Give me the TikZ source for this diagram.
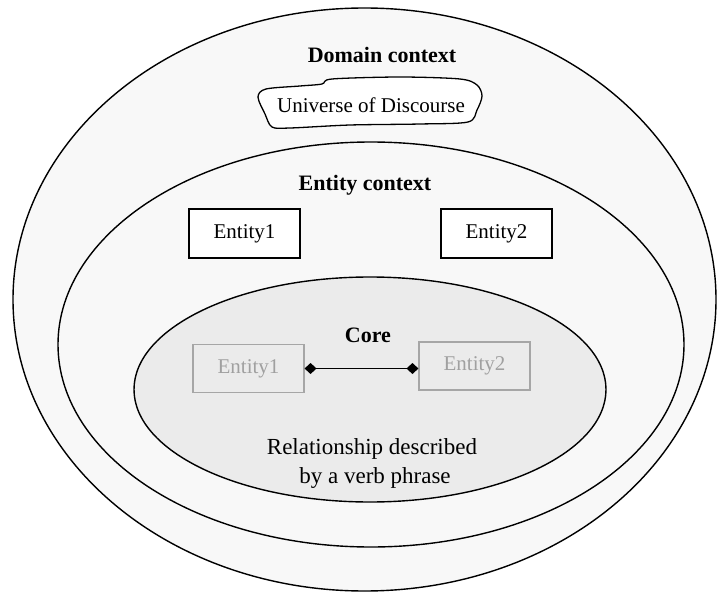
\documentclass[tikz,border=0pt]{standalone}
\usepackage{fontspec}
\setmainfont{Liberation Serif}
\usetikzlibrary{arrows.meta}
\definecolor{ctxfill}{HTML}{F8F8F8}
\definecolor{corefill}{HTML}{EBEBEB}
\definecolor{ghostline}{HTML}{A6A6A6}
\definecolor{ghosttext}{HTML}{A0A0A0}
\begin{document}
\begin{tikzpicture}[x=1pt, y=-1pt,
  ctx/.style={draw, line width=1.4pt},
  ent/.style={draw, line width=1.3pt, fill=white, minimum width=111pt,
              minimum height=49pt, inner sep=0pt, font=\fontsize{21}{25}\selectfont},
  ghost/.style={draw=ghostline, line width=1.1pt, fill=corefill, text=ghosttext,
                minimum width=111pt, minimum height=48pt, inner sep=0pt,
                font=\fontsize{21}{25}\selectfont},
  title/.style={anchor=base, font=\fontsize{22}{26}\selectfont\bfseries, inner sep=0pt},
  txt/.style={anchor=base, font=\fontsize{23}{28}\selectfont, inner sep=0pt},
  rel/.style={line width=1.6pt, {Diamond[length=12pt,width=11pt]}-{Diamond[length=12pt,width=11pt]}}
]
  \useasboundingbox (0,0) rectangle (718,594);

  % Nested contexts
  \draw[ctx, fill=ctxfill]  (364.5,299.5) ellipse [x radius=351.5pt, y radius=291.5pt];
  \draw[ctx, fill=ctxfill]  (371,344.5)   ellipse [x radius=313pt, y radius=202.5pt];
  \draw[ctx, fill=corefill] (370,389.5)   ellipse [x radius=236pt, y radius=112.5pt];

  % Domain context
  \node[title] (domain) at (382,63) {Domain context};
  \draw[line width=1.3pt, fill=white] plot[smooth cycle, tension=0.5] coordinates {
    (258,97) (266,89) (300,86) (322,84) (332,79) (400,77) (460,79) (477,85)
    (482,96) (477,110) (468,122) (420,124) (350,125) (290,128) (272,127) (265,114)};
  \node[anchor=base, inner sep=0pt, font=\fontsize{21}{25}\selectfont] (udisc) at (371,112)
    {Universe of Discourse};

  % Entity context
  \node[title] (entctx) at (365,190) {Entity context};
  \node[ent] (e1) at (244.5,233.5) {Entity1};
  \node[ent] (e2) at (496.5,233.5) {Entity2};

  % Core
  \node[title] (core) at (368,342) {Core};
  \node[ghost] (g1) at (248.5,368.5) {Entity1};
  \node[ghost] (g2) at (474.5,366)   {Entity2};
  \draw[rel] (g1.east) -- (g2.west |- g1.east);
  \node[txt] (rel1) at (372,454) {Relationship described};
  \node[txt] (rel2) at (375,483) {by a verb phrase};
\end{tikzpicture}
\end{document}
